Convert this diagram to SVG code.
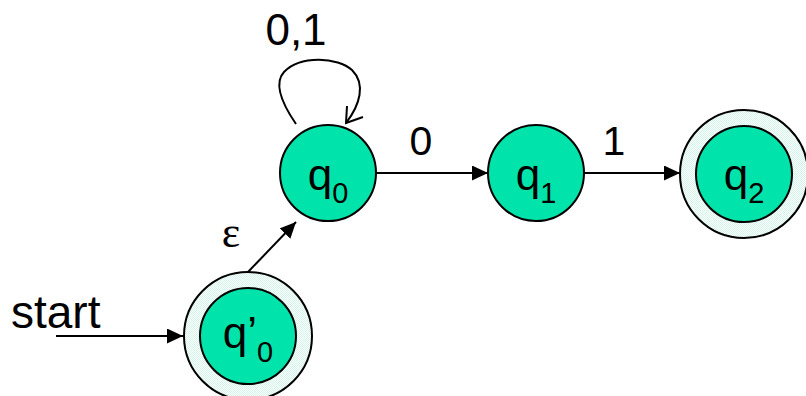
<svg xmlns="http://www.w3.org/2000/svg" width="806" height="396" viewBox="0 0 806 396">
  <style>
    .state { fill: #00E3AA; stroke: #000; stroke-width: 2; }
    .ring { fill: url(#dots); stroke: #000; stroke-width: 2; }
    .edge { fill: none; stroke: #000; stroke-width: 2; }
    .lbl { font-family: "Liberation Sans", Arial, sans-serif; fill: #000; }
    .q { font-family: "Liberation Sans", Arial, sans-serif; font-size: 44px; fill: #000; }
    .sub { font-size: 29px; }
  </style>
  <defs>
    <pattern id="dots" width="2" height="2" patternUnits="userSpaceOnUse">
      <rect width="2" height="2" fill="#ffffff"/>
      <rect x="0" y="0" width="1" height="1" fill="#d2f4ea"/>
      <rect x="1" y="1" width="1" height="1" fill="#d2f4ea"/>
    </pattern>
    <marker id="arr" markerWidth="16" markerHeight="15" refX="16" refY="7.5" orient="auto" markerUnits="userSpaceOnUse">
      <path d="M0,0 L16,7.5 L0,15 Z" fill="#000"/>
    </marker>
  </defs>
  <rect width="806" height="396" fill="#fff"/>

  <g id="connectors">
    <line class="edge" x1="56" y1="336" x2="183" y2="336" marker-end="url(#arr)"/>
    <line class="edge" x1="248" y1="272" x2="296" y2="222" marker-end="url(#arr)"/>
    <line class="edge" x1="376" y1="173" x2="488" y2="173" marker-end="url(#arr)"/>
    <line class="edge" x1="584" y1="173" x2="680" y2="173" marker-end="url(#arr)"/>
    <path class="edge" stroke-width="1.6" d="M296,124 C285,108 272,85 284,72 C300,55 338,57 352,70 C366,84 360,105 346,123"/>
    <path class="edge" stroke-width="1.6" d="M347,106 L346,123 L363,117"/>
  </g>

  <g id="labels">
    <text class="lbl" x="11" y="328" font-size="46">start</text>
    <text x="231" y="247" font-family="Liberation Serif, 'Times New Roman', serif" font-size="44" text-anchor="middle">ε</text>
    <text class="lbl" x="296" y="45" font-size="44" text-anchor="middle">0,1</text>
    <text class="lbl" x="421" y="155" font-size="41" text-anchor="middle">0</text>
    <text class="lbl" x="614" y="155" font-size="41" text-anchor="middle">1</text>
  </g>

  <g id="q0p">
    <circle class="ring" cx="248" cy="336" r="64"/>
    <circle class="state" cx="248" cy="336" r="48"/>
    <text class="q" x="248" y="348" text-anchor="middle">q’<tspan class="sub" dy="14">0</tspan></text>
  </g>

  <g id="q0">
    <circle class="state" cx="328" cy="173" r="48"/>
    <text class="q" x="328" y="190" text-anchor="middle">q<tspan class="sub" dy="13">0</tspan></text>
  </g>

  <g id="q1">
    <circle class="state" cx="536" cy="173" r="48"/>
    <text class="q" x="536" y="190" text-anchor="middle">q<tspan class="sub" dy="13">1</tspan></text>
  </g>

  <g id="q2">
    <circle class="ring" cx="744" cy="174" r="64"/>
    <circle class="state" cx="744" cy="174" r="48"/>
    <text class="q" x="744" y="190" text-anchor="middle">q<tspan class="sub" dy="13">2</tspan></text>
  </g>
</svg>
